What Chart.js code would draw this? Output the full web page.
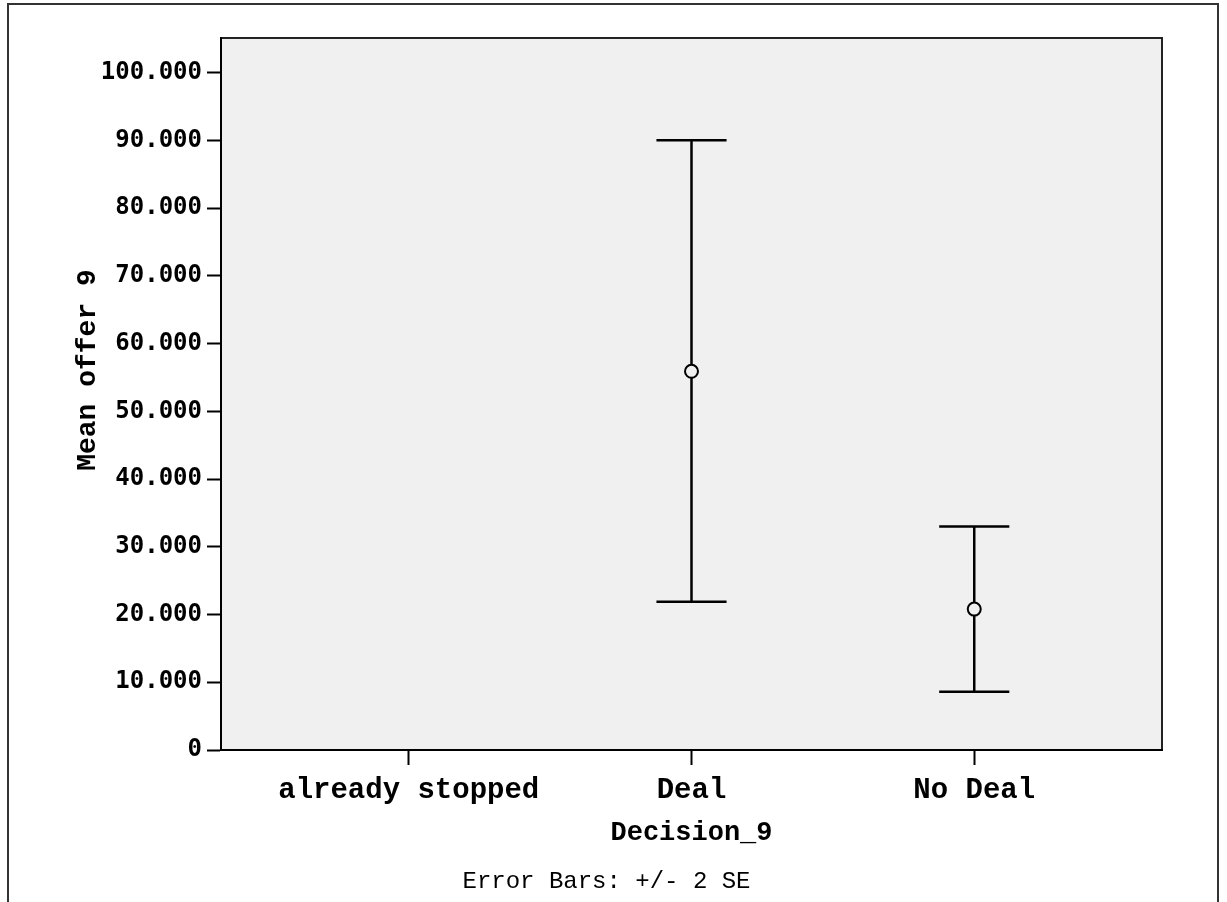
<!DOCTYPE html>
<html>
  <head>
    <title>Mean offer 9 by Decision_9</title>
    <script src="https://cdn.jsdelivr.net/npm/chart.js"></script>
    <style>
      html, body {
        margin: 0;
        padding: 0;
        background-color: #ffffff;
      }
      .chart-container {
        position: relative;
        width: 1227px;
        height: 902px;
      }
    </style>
  </head>
  <body>
    <div class="chart-container">
      <canvas id="myChart" width="1227" height="902"></canvas>
    </div>

    <script>
      // values
      var categories = ["already stopped", "Deal", "No Deal"];
      var meanOffer = [null, 55.9, 20.8];
      var upperBar = [null, 90.0, 33.0];   // mean + 2 SE
      var lowerBar = [null, 21.9, 8.6];    // mean - 2 SE
      var yTicks = [0, 10, 20, 30, 40, 50, 60, 70, 80, 90, 100];
      var yTitle = "Mean offer 9";
      var xTitle = "Decision_9";
      var footnote = "Error Bars: +/- 2 SE";

      var plotBg = "#f0f0f0";
      var monoFamily = "'Liberation Mono', monospace";

      var points = [];
      for (var i = 0; i < categories.length; i++) {
        if (meanOffer[i] !== null) points.push({ x: i + 1, y: meanOffer[i] });
      }

      // grey plot area, top/right border, outer frame, y title and footnote
      var framePlugin = {
        id: "frame",
        beforeDraw: function (chart) {
          var ctx = chart.ctx;
          var a = chart.chartArea;
          ctx.save();
          ctx.fillStyle = "#ffffff";
          ctx.fillRect(0, 0, chart.width, chart.height);
          ctx.strokeStyle = "#333333";
          ctx.lineWidth = 2;
          ctx.strokeRect(8, 4, chart.width - 17, chart.height + 20);
          ctx.fillStyle = plotBg;
          ctx.fillRect(a.left, a.top, a.right - a.left, a.bottom - a.top);
          ctx.strokeStyle = "#222222";
          ctx.lineWidth = 2;
          ctx.beginPath();
          ctx.moveTo(a.left, a.top);
          ctx.lineTo(a.right, a.top);
          ctx.lineTo(a.right, a.bottom);
          ctx.stroke();
          ctx.restore();
        },
        afterDraw: function (chart) {
          var ctx = chart.ctx;
          var a = chart.chartArea;
          ctx.save();
          ctx.fillStyle = "#000000";
          ctx.textAlign = "center";
          ctx.textBaseline = "middle";
          ctx.font = "24px " + monoFamily;
          ctx.fillText(footnote, chart.width / 2 - 7, chart.height - 20);
          // y title sits a little above the middle of the axis, as in the original
          ctx.translate(88, (a.top + a.bottom) / 2 - 24);
          ctx.rotate(-Math.PI / 2);
          ctx.font = "bold 28px " + monoFamily;
          ctx.fillText(yTitle, 0, 0);
          ctx.restore();
        },
      };

      // error bars from the lower/upper arrays, through the chart scales
      var errorBarPlugin = {
        id: "errorBars",
        beforeDatasetsDraw: function (chart) {
          var ctx = chart.ctx;
          var xs = chart.scales.x;
          var ys = chart.scales.y;
          ctx.save();
          ctx.strokeStyle = "#000000";
          ctx.lineWidth = 2.5;
          for (var i = 0; i < categories.length; i++) {
            if (upperBar[i] === null) continue;
            var x = xs.getPixelForValue(i + 1);
            var half = xs.getPixelForValue(i + 1.124) - x;
            var yTop = ys.getPixelForValue(upperBar[i]);
            var yBot = ys.getPixelForValue(lowerBar[i]);
            ctx.beginPath();
            ctx.moveTo(x, yTop);
            ctx.lineTo(x, yBot);
            ctx.moveTo(x - half, yTop);
            ctx.lineTo(x + half, yTop);
            ctx.moveTo(x - half, yBot);
            ctx.lineTo(x + half, yBot);
            ctx.stroke();
          }
          ctx.restore();
        },
      };

      var ctx = document.getElementById("myChart").getContext("2d");
      var myChart = new Chart(ctx, {
        type: "scatter",
        data: {
          datasets: [{
            label: yTitle,
            data: points,
            pointRadius: 6.5,
            pointHoverRadius: 6.5,
            pointBorderWidth: 2,
            pointBorderColor: "#000000",
            pointBackgroundColor: plotBg,
          }],
        },
        options: {
          responsive: false,
          animation: false,
          layout: {
            padding: { left: 0, top: 38, right: 65, bottom: 0 },
          },
          plugins: {
            legend: { display: false },
            tooltip: { enabled: false },
          },
          scales: {
            x: {
              type: "linear",
              min: 0.336,
              max: 3.664,
              afterBuildTicks: function (scale) {
                scale.ticks = categories.map(function (c, i) { return { value: i + 1 }; });
              },
              afterFit: function (scale) {
                scale.height = 152;
              },
              grid: {
                drawOnChartArea: false,
                drawTicks: true,
                tickLength: 15,
                tickWidth: 2,
                tickColor: "#000000",
              },
              border: { display: true, color: "#000000", width: 2 },
              ticks: {
                autoSkip: false,
                maxRotation: 0,
                padding: 8,
                color: "#000000",
                font: { family: monoFamily, weight: "bold", size: 29 },
                callback: function (v) {
                  return categories[Math.round(v) - 1];
                },
              },
              title: {
                display: true,
                text: xTitle,
                color: "#000000",
                font: { family: monoFamily, weight: "bold", size: 27 },
                padding: { top: 0, bottom: 53 },
              },
            },
            y: {
              min: 0,
              max: 105.1,
              afterBuildTicks: function (scale) {
                scale.ticks = yTicks.map(function (v) { return { value: v }; });
              },
              afterFit: function (scale) {
                scale.width = 221;
              },
              grid: {
                drawOnChartArea: false,
                drawTicks: true,
                tickLength: 14,
                tickWidth: 2,
                tickColor: "#000000",
              },
              border: { display: true, color: "#000000", width: 2 },
              ticks: {
                padding: 5,
                color: "#000000",
                font: { family: "'DejaVu Sans Mono', monospace", weight: "bold", size: 24 },
                callback: function (v) {
                  return v === 0 ? "0" : v.toFixed(3);
                },
              },
              title: { display: false },
            },
          },
        },
        plugins: [framePlugin, errorBarPlugin],
      });
    </script>
  </body>
</html>
